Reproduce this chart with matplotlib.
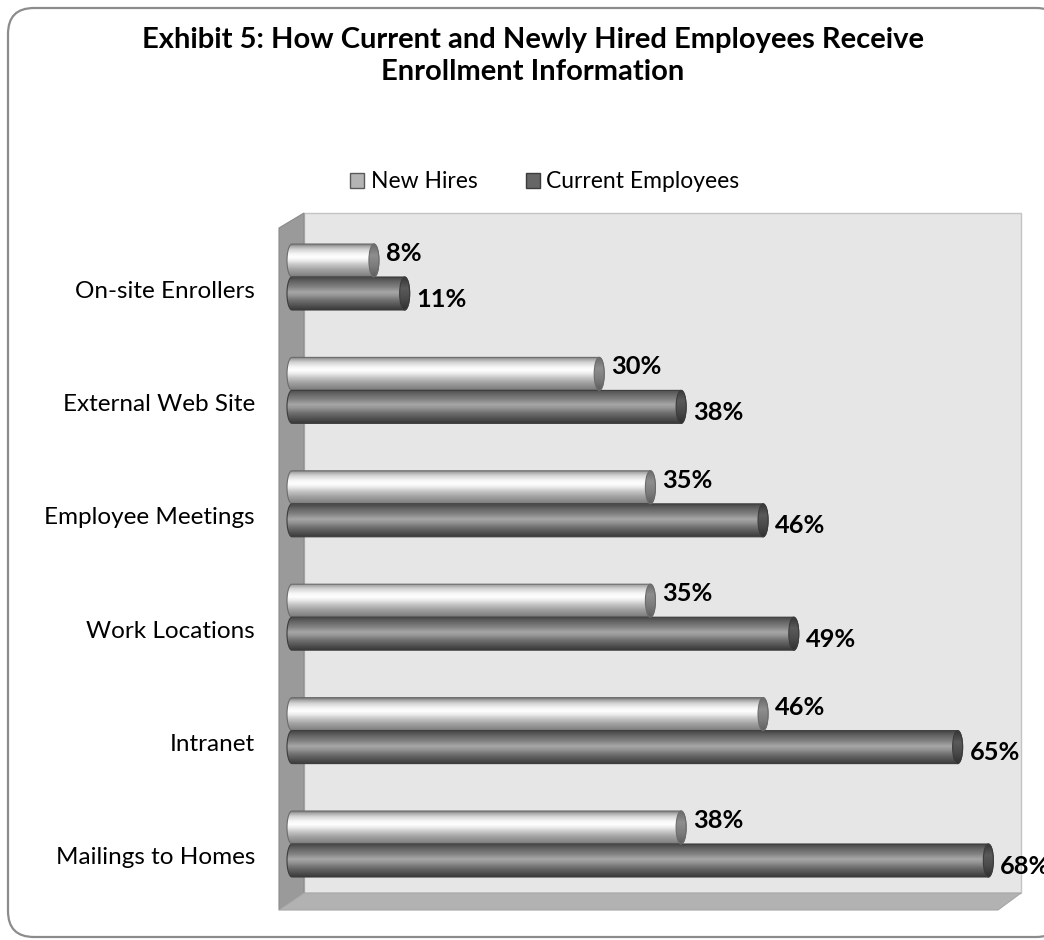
import numpy as np
import matplotlib
matplotlib.use("Agg")
import matplotlib.pyplot as plt
from matplotlib.colors import LinearSegmentedColormap
from matplotlib.patches import PathPatch, Ellipse, Patch, Polygon, FancyBboxPatch
from matplotlib.path import Path
from matplotlib.transforms import ScaledTranslation

plt.rcParams["font.family"] = ["Lato", "DejaVu Sans"]

categories = ["On-site Enrollers", "External Web Site", "Employee Meetings",
              "Work Locations", "Intranet", "Mailings to Homes"]
new_hires = [8, 30, 35, 35, 46, 38]
current_employees = [11, 38, 46, 49, 65, 68]
series_names = ["New Hires", "Current Employees"]

title = "Exhibit 5: How Current and Newly Hired Employees Receive\nEnrollment Information"

W, H = 1044, 940
PX_PER_PCT = 10.24
PX_PER_CAT = 113.4

# plot box in pixels (back wall)
WALL_L, WALL_R, WALL_T, WALL_B = 304, 1021, 213, 893
X0_PX = 292            # where 0% sits (bars stand a bit in front of the wall)
AX_L = 270             # axes start a little left of 0% so the rounded bar ends show
LABEL_R = 255          # right edge of the category labels
FIRST_CAT_PX = 277     # centre of the first bar pair

BAR_H = 33 / PX_PER_CAT
CAP_A = 5 / PX_PER_PCT

new_cmap = LinearSegmentedColormap.from_list("new", [
    (0.0, "#7a7a7a"), (0.06, "#a8a8a8"), (0.16, "#d4d4d4"), (0.3, "#f6f6f6"),
    (0.4, "#ffffff"), (0.5, "#ececec"), (0.62, "#c8c8c8"), (0.78, "#a2a2a2"),
    (0.92, "#8a8a8a"), (1.0, "#7a7a7a")])
cur_cmap = LinearSegmentedColormap.from_list("cur", [
    (0.0, "#474747"), (0.1, "#5e5e5e"), (0.3, "#828282"), (0.45, "#a6a6a6"),
    (0.55, "#979797"), (0.7, "#717171"), (0.85, "#555555"), (1.0, "#3a3a3a")])
new_cap = LinearSegmentedColormap.from_list("newcap", ["#6a6a6a", "#8e8e8e", "#7c7c7c", "#5e5e5e"])
cur_cap = LinearSegmentedColormap.from_list("curcap", ["#363636", "#5a5a5a", "#4a4a4a", "#2f2f2f"])


def cylinder_path(v, yc):
    b = BAR_H / 2
    t = np.linspace(0, np.pi, 40)
    left = np.column_stack([-CAP_A * np.sin(t), yc - b * np.cos(t)])
    right = np.column_stack([v + CAP_A * np.sin(t), yc + b * np.cos(t)])
    verts = np.vstack([left, right, left[:1]])
    codes = [Path.MOVETO] + [Path.LINETO] * (len(verts) - 2) + [Path.CLOSEPOLY]
    return Path(verts, codes)


def gradient(cmap):
    return cmap(np.linspace(0, 1, 80))[:, None, :3]


def draw_cylinder(ax, v, yc, body_cmap, cap_cmap, edge):
    b = BAR_H / 2
    outline = PathPatch(cylinder_path(v, yc), facecolor="none", edgecolor=edge,
                        lw=0.8, transform=ax.transData, zorder=3)
    ax.add_patch(outline)
    im = ax.imshow(gradient(body_cmap), extent=(-CAP_A, v + CAP_A, yc + b, yc - b),
                   origin="upper", aspect="auto", interpolation="bilinear", zorder=2)
    im.set_clip_path(outline)
    cap = Ellipse((v, yc), 2 * CAP_A, BAR_H, facecolor="none", edgecolor=edge,
                  lw=0.8, zorder=5)
    ax.add_patch(cap)
    im2 = ax.imshow(gradient(cap_cmap), extent=(v - CAP_A, v + CAP_A, yc + b, yc - b),
                    origin="upper", aspect="auto", interpolation="bilinear", zorder=4)
    im2.set_clip_path(cap)


fig = plt.figure(figsize=(W / 100, H / 100), dpi=100)

# background layer in pixel coordinates: border, side wall, floor, back wall
bg = fig.add_axes([0, 0, 1, 1], zorder=0)
bg.set_xlim(0, W)
bg.set_ylim(H, 0)
bg.axis("off")
bg.add_patch(FancyBboxPatch((8, 8), W + 10, 929, boxstyle="round,pad=0,rounding_size=26",
                            facecolor="white", edgecolor="#8c8c8c", lw=1.6))
bg.add_patch(Polygon([(WALL_L, WALL_T), (WALL_R, WALL_T), (WALL_R, WALL_B), (WALL_L, WALL_B)],
                     facecolor="#e6e6e6", edgecolor="#c4c4c4", lw=1))
bg.add_patch(Polygon([(279, 228), (WALL_L, WALL_T), (WALL_L, WALL_B), (279, 910)],
                     facecolor="#9a9a9a", edgecolor="#8a8a8a", lw=0.8))
bg.add_patch(Polygon([(WALL_L, WALL_B), (WALL_R, WALL_B), (998, 910), (279, 910)],
                     facecolor="#b2b2b2", edgecolor="#a6a6a6", lw=0.8))

# chart layer: 0% at X0_PX, categories spaced PX_PER_CAT apart
ax = fig.add_axes([AX_L / W, 1 - WALL_B / H, (WALL_R - AX_L) / W, (WALL_B - WALL_T) / H],
                  zorder=1)
ax.patch.set_visible(False)
for s in ax.spines.values():
    s.set_visible(False)

y = np.arange(len(categories), dtype=float)
for i, (nh, ce) in enumerate(zip(new_hires, current_employees)):
    draw_cylinder(ax, nh, y[i] - BAR_H / 2, new_cmap, new_cap, "#6c6c6c")
    draw_cylinder(ax, ce, y[i] + BAR_H / 2, cur_cmap, cur_cap, "#3c3c3c")
    ax.annotate(f"{nh}%", (nh + CAP_A, y[i] - BAR_H / 2), xytext=(5, 5),
                textcoords="offset points", ha="left", va="center",
                fontsize=18.3, fontweight="bold", annotation_clip=False, zorder=6)
    ax.annotate(f"{ce}%", (ce + CAP_A, y[i] + BAR_H / 2), xytext=(5, -4),
                textcoords="offset points", ha="left", va="center",
                fontsize=18.3, fontweight="bold", annotation_clip=False, zorder=6)

ax.set_xlim(-(X0_PX - AX_L) / PX_PER_PCT, (WALL_R - X0_PX) / PX_PER_PCT)
ax.set_ylim((WALL_B - FIRST_CAT_PX) / PX_PER_CAT, (WALL_T - FIRST_CAT_PX) / PX_PER_CAT)
ax.set_xticks([])
ax.set_yticks(y, categories, fontsize=17.5)
ax.tick_params(axis="y", length=0, pad=(AX_L - LABEL_R) * 0.72)
shift = ScaledTranslation(0, -0.12, fig.dpi_scale_trans)
for lbl in ax.get_yticklabels():
    lbl.set_transform(lbl.get_transform() + shift)

fig.text(533 / W, 1 - 56 / H, title, ha="center", va="center", fontsize=21,
         fontweight="bold", linespacing=1.25)

handles = [Patch(facecolor="#b4b4b4", edgecolor="#5a5a5a", lw=1),
           Patch(facecolor="#666666", edgecolor="#3c3c3c", lw=1)]
fig.legend(handles, series_names, loc="center", bbox_to_anchor=(545 / W, 1 - 182 / H),
           ncol=2, frameon=False, fontsize=16.5, handlelength=0.6, handleheight=0.6,
           handletextpad=0.3, columnspacing=2.1)

fig.savefig("out.png", dpi=100)
